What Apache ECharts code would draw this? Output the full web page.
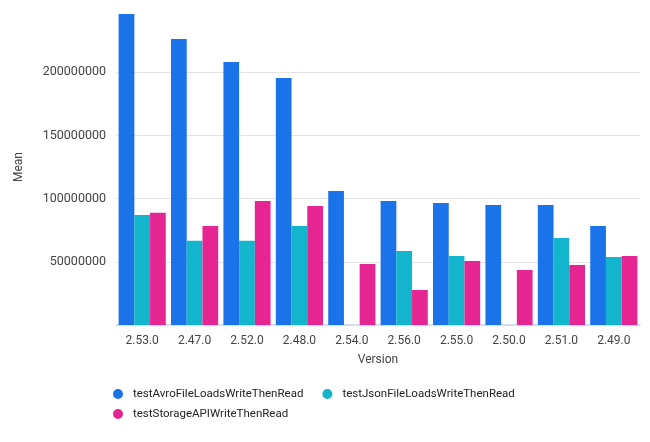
<!DOCTYPE html>
<html>
<head>
<meta charset="utf-8">
<script src="https://cdn.jsdelivr.net/npm/echarts@6/dist/echarts.min.js"></script>
<style>html,body{margin:0;padding:0;background:#fff}#c{width:650px;height:442px}</style>
</head>
<body>
<div id="c"></div>
<script>
const categories = ['2.53.0','2.47.0','2.52.0','2.48.0','2.54.0','2.56.0','2.55.0','2.50.0','2.51.0','2.49.0'];
const seriesNames = ['testAvroFileLoadsWriteThenRead','testJsonFileLoadsWriteThenRead','testStorageAPIWriteThenRead'];
const avroValues = [246000000,226300000,208000000,195400000,106000000,98100000,96500000,94900000,94900000,78300000];
const jsonValues = [87000000,66700000,66700000,78300000,null,58500000,54600000,null,68800000,53800000];
const storageValues = [88900000,78300000,98100000,94100000,48300000,27700000,50600000,43500000,47500000,54600000];
const colors = ['#1a73e8','#12b5cb','#e52592'];

const chart = echarts.init(document.getElementById('c'), null, {renderer:'canvas'});
const font = 'Roboto';
chart.setOption({
  animation:false,
  textStyle:{fontFamily:font},
  color:colors,
  grid:{left:116,right:10,top:9,bottom:117,containLabel:false},
  legend:[
    {data:[seriesNames[0],seriesNames[1]],left:108,top:383,icon:'circle',itemWidth:20,itemHeight:10,itemGap:19,
     textStyle:{fontFamily:font,fontSize:11.5,color:'#222'}},
    {data:[seriesNames[2]],left:108,top:403,icon:'circle',itemWidth:20,itemHeight:10,
     textStyle:{fontFamily:font,fontSize:11.5,color:'#222'}}
  ],
  xAxis:{type:'category',data:categories,
    name:'Version',nameLocation:'middle',nameGap:29,nameTextStyle:{fontFamily:font,fontSize:12,color:'#444'},
    axisLine:{lineStyle:{color:'#c6d2e6',width:1.5}},axisTick:{show:false},
    axisLabel:{margin:10,fontFamily:font,fontSize:12,color:'#444'}},
  yAxis:{type:'value',min:0,max:250000000,interval:50000000,
    name:'Mean',nameLocation:'middle',nameGap:91,nameTextStyle:{fontFamily:font,fontSize:12,color:'#444'},
    axisLine:{show:false},axisTick:{show:false},
    axisLabel:{margin:10,fontFamily:font,fontSize:12.5,color:'#444',showMinLabel:false,showMaxLabel:false,
      formatter:function(v){return String(v);}},
    splitLine:{show:true,showMinLine:false,showMaxLine:false,lineStyle:{color:'#e3e3e3',width:1}}},
  series:[
    {name:seriesNames[0],type:'bar',data:avroValues,barGap:'0%',barCategoryGap:'10%',itemStyle:{color:colors[0]}},
    {name:seriesNames[1],type:'bar',data:jsonValues,barGap:'0%',barCategoryGap:'10%',itemStyle:{color:colors[1]}},
    {name:seriesNames[2],type:'bar',data:storageValues,barGap:'0%',barCategoryGap:'10%',itemStyle:{color:colors[2]}}
  ]
});
</script>
</body>
</html>
